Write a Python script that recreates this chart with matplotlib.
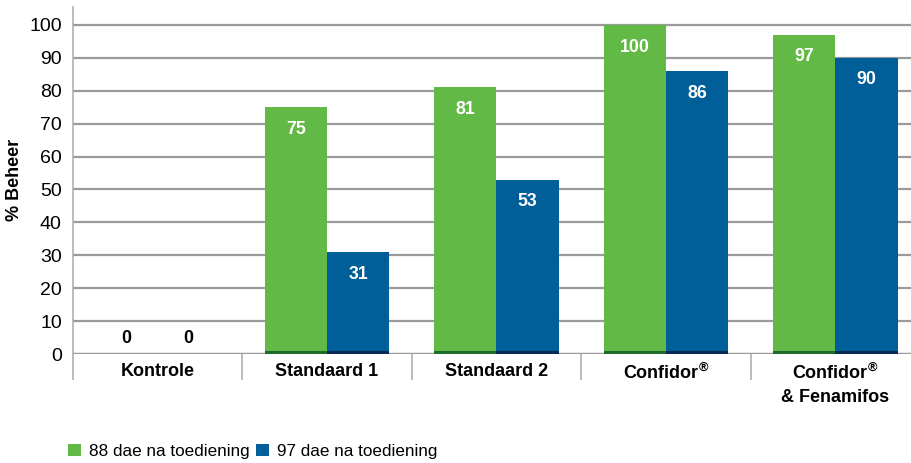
import numpy as np
import matplotlib
matplotlib.use("Agg")
import matplotlib.pyplot as plt
from matplotlib.patches import Patch

plt.rcParams['font.family'] = ['Liberation Sans', 'DejaVu Sans']
plt.rcParams['mathtext.fontset'] = 'custom'
plt.rcParams['mathtext.rm'] = 'Liberation Sans'
plt.rcParams['mathtext.bf'] = 'Liberation Sans:bold'

categories = ['Kontrole', 'Standaard 1', 'Standaard 2', r'Confidor$^{\mathbf{®}}$',
              'Confidor$^{\\mathbf{®}}$\n& Fenamifos']
dae_88 = [0, 75, 81, 100, 97]
dae_97 = [0, 31, 53, 86, 90]
series_names = ['88 dae na toediening', '97 dae na toediening']

green = '#63b946'
green_dark = '#1f6b2a'
blue = '#005e98'
blue_dark = '#0a2a55'
grid_col = '#9a9a9a'

fig = plt.figure(figsize=(9.11, 4.63), dpi=100)
ax = fig.add_axes([0.080, 0.2354, 0.93, 0.75])

x = np.arange(len(categories))
w = 0.367

ax.set_ylim(0, 105.5)
ax.set_xlim(-0.5, 4.5)
ax.set_yticks(range(0, 101, 10))
ax.yaxis.grid(True, color=grid_col, linewidth=1.6)
ax.set_axisbelow(True)
for s in ['top', 'right', 'bottom']:
    ax.spines[s].set_visible(False)
ax.spines['left'].set_color('#b0b0b0')
ax.spines['left'].set_linewidth(1.2)
ax.tick_params(axis='y', length=0, labelsize=14, pad=8)
ax.tick_params(axis='x', length=0)
ax.set_xticks([])

b1 = ax.bar(x - w / 2, dae_88, w, color=green, edgecolor='none', zorder=3)
b2 = ax.bar(x + w / 2, dae_97, w, color=blue, edgecolor='none', zorder=3)

# darker strip at the foot of each bar
for xs, vals, dark in [(x - w / 2, dae_88, green_dark), (x + w / 2, dae_97, blue_dark)]:
    v = np.array(vals)
    has = v > 0
    ax.bar(xs[has], 0.9, w, color=dark, edgecolor='none', zorder=4)

for rect, v in list(zip(b1, dae_88)) + list(zip(b2, dae_97)):
    cx = rect.get_x() + rect.get_width() / 2
    if v > 0:
        ax.annotate(str(v), (cx, v), xytext=(0, -16), textcoords='offset points',
                    ha='center', va='center', color='white', fontsize=12.8,
                    fontweight='bold', zorder=5)
    else:
        ax.annotate(str(v), (cx, 0), xytext=(0, 11), textcoords='offset points',
                    ha='center', va='center', color='black', fontsize=12.8,
                    fontweight='bold', zorder=5)

# category separators below the axis
ax.vlines(np.arange(len(categories) + 1) - 0.5, -8, 0, color='#b0b0b0',
          linewidth=1.2, clip_on=False)
ax.axhline(0, color=grid_col, linewidth=1.6, zorder=2)

for xi, lab in zip(x, categories):
    ax.text(xi, -2.6, lab, ha='center', va='top', fontsize=13,
            fontweight='bold', linespacing=1.45)

ax.set_ylabel('% Beheer', fontsize=13, fontweight='bold')
ax.yaxis.set_label_coords(-0.059, 0.5)

handles = [Patch(facecolor=green), Patch(facecolor=blue)]
fig.legend(handles, series_names, loc='center left', bbox_to_anchor=(0.075, 0.025),
           ncol=2, frameon=False, fontsize=12.3, handlelength=0.75, handleheight=0.75,
           handletextpad=0.45, columnspacing=0.4, borderpad=0, borderaxespad=0)

fig.savefig('out.png', dpi=100)
